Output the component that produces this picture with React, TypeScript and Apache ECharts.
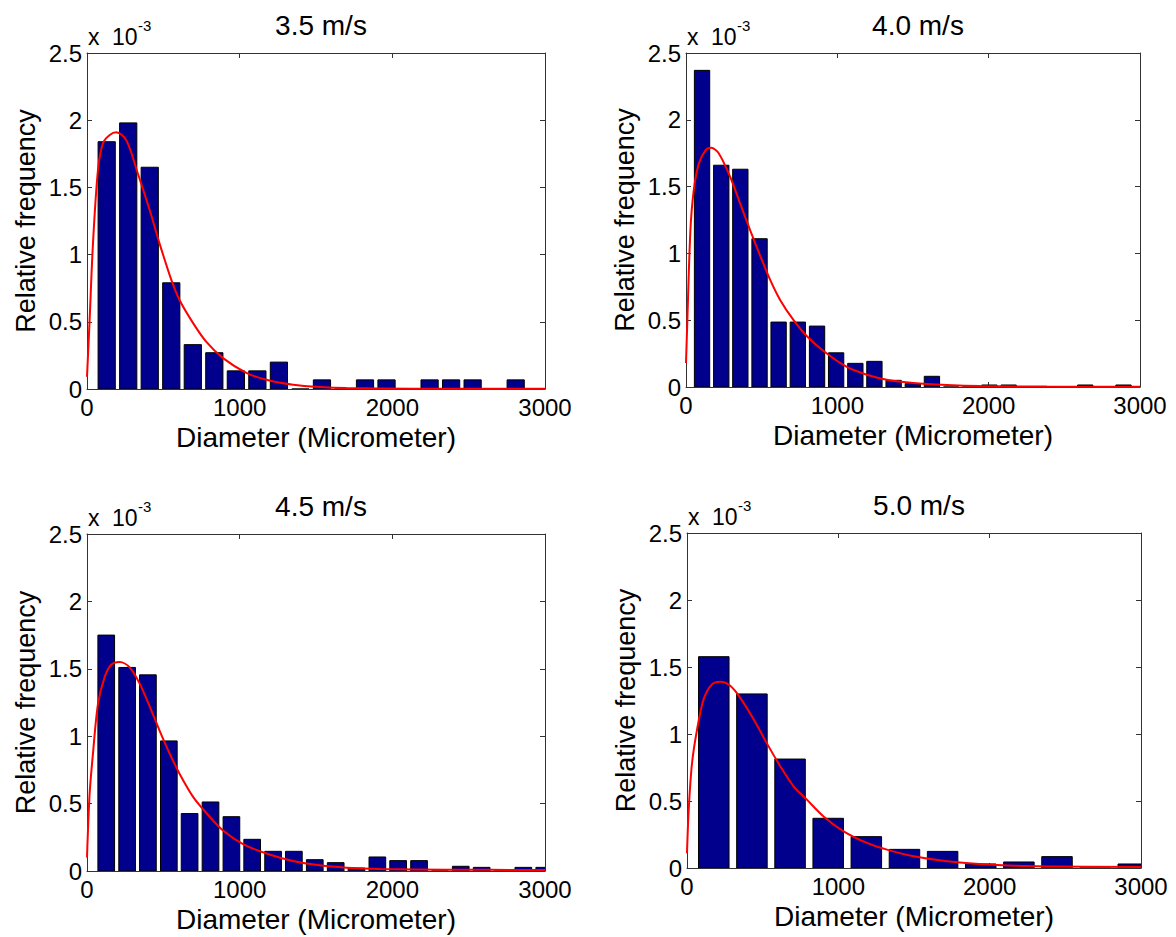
import React, { useEffect, useRef } from "react";
import * as echarts from "echarts";

// ---------- Data (relative frequency in units of 1e-3) ----------
const titles = ["3.5 m/s", "4.0 m/s", "4.5 m/s", "5.0 m/s"];
const xTicks = [0, 1000, 2000, 3000];
const yTicks = [0, 0.5, 1, 1.5, 2, 2.5];

// 3.5 m/s
const binWidth35 = 141;
const centers35 = [129, 270, 411, 552, 693, 834, 975, 1116, 1257, 1398, 1539, 1680, 1821, 1962, 2103, 2244, 2385, 2526, 2667, 2808];
const freq35 = [1.84, 1.98, 1.65, 0.79, 0.33, 0.27, 0.135, 0.135, 0.2, 0, 0.068, 0, 0.068, 0.068, 0, 0.068, 0.068, 0.068, 0, 0.068];
const curveX35 = [0, 17, 39, 72, 105, 149, 192, 258, 334, 411, 476, 553, 607, 695, 782, 891, 1044, 1175, 1350, 1525, 1700, 2137, 3000];
const curveY35 = [0.09, 0.51, 1.08, 1.63, 1.83, 1.89, 1.91, 1.85, 1.6, 1.33, 1.08, 0.81, 0.66, 0.49, 0.35, 0.23, 0.12, 0.069, 0.032, 0.015, 0.007, 0.002, 0.001];

// 4.0 m/s
const binWidth40 = 126.6;
const centers40 = [106, 233, 359, 486, 612, 739, 866, 992, 1119, 1245, 1372, 1499, 1625, 1752, 1878, 2005, 2132, 2258, 2385, 2511, 2638, 2765, 2891];
const freq40 = [2.37, 1.66, 1.63, 1.11, 0.486, 0.486, 0.456, 0.256, 0.177, 0.192, 0.05, 0.025, 0.08, 0, 0, 0.015, 0.015, 0, 0, 0, 0.015, 0, 0.015];
const curveX40 = [0, 7, 29, 51, 84, 128, 167, 216, 293, 359, 425, 491, 557, 623, 711, 799, 909, 1063, 1195, 1327, 1503, 1724, 1944, 2384, 3000];
const curveY40 = [0.18, 0.43, 1.17, 1.47, 1.67, 1.77, 1.79, 1.75, 1.57, 1.37, 1.17, 0.98, 0.8, 0.65, 0.5, 0.38, 0.27, 0.15, 0.092, 0.055, 0.03, 0.015, 0.007, 0.003, 0.002];

// 4.5 m/s
const binWidth45 = 136.6;
const centers45 = [126, 263, 399, 536, 672, 809, 946, 1082, 1219, 1355, 1492, 1629, 1765, 1902, 2038, 2175, 2312, 2448, 2585, 2721, 2858, 2995];
const freq45 = [1.75, 1.51, 1.455, 0.965, 0.426, 0.512, 0.403, 0.235, 0.146, 0.146, 0.084, 0.062, 0.022, 0.104, 0.077, 0.077, 0, 0.035, 0.027, 0, 0.027, 0.027];
const curveX45 = [0, 17, 39, 72, 116, 159, 214, 280, 345, 411, 476, 542, 607, 695, 782, 891, 1022, 1175, 1350, 1525, 1700, 1918, 2355, 3000];
const curveY45 = [0.1, 0.57, 0.87, 1.24, 1.44, 1.53, 1.55, 1.51, 1.39, 1.22, 1.04, 0.87, 0.72, 0.55, 0.43, 0.3, 0.2, 0.13, 0.074, 0.042, 0.025, 0.015, 0.01, 0.007];

// 5.0 m/s
const binWidth50 = 252;
const centers50 = [177, 429, 681, 933, 1185, 1437, 1689, 1941, 2193, 2445, 2697, 2949];
const freq50 = [1.577, 1.299, 0.813, 0.371, 0.234, 0.139, 0.124, 0.03, 0.045, 0.085, 0, 0.03];
const curveX50 = [0, 11, 33, 66, 110, 165, 220, 286, 352, 440, 528, 616, 704, 792, 902, 1035, 1189, 1321, 1497, 1717, 1937, 2157, 2377, 3000];
const curveY50 = [0.11, 0.43, 0.78, 1.03, 1.26, 1.37, 1.39, 1.36, 1.27, 1.11, 0.93, 0.76, 0.61, 0.51, 0.385, 0.274, 0.187, 0.137, 0.087, 0.05, 0.03, 0.017, 0.012, 0.007];

const panels = [
  { title: titles[0], w: binWidth35, c: centers35, f: freq35, cx: curveX35, cy: curveY35, grid: { left: 87, top: 53, width: 458, height: 336 } },
  { title: titles[1], w: binWidth40, c: centers40, f: freq40, cx: curveX40, cy: curveY40, grid: { left: 686, top: 53, width: 454, height: 334 } },
  { title: titles[2], w: binWidth45, c: centers45, f: freq45, cx: curveX45, cy: curveY45, grid: { left: 87, top: 534, width: 458, height: 337 } },
  { title: titles[3], w: binWidth50, c: centers50, f: freq50, cx: curveX50, cy: curveY50, grid: { left: 687, top: 533, width: 454, height: 335 } },
];

const FONT = "Liberation Sans, Arial, sans-serif";
const AX = "#333333";

function buildOption() {
  const grid: any[] = [];
  const xAxis: any[] = [];
  const yAxis: any[] = [];
  const series: any[] = [];
  const title: any[] = [];
  const graphic: any[] = [];

  panels.forEach((p, i) => {
    grid.push({ ...p.grid, containLabel: false });
    const commonX = {
      type: "value",
      gridIndex: i,
      min: xTicks[0],
      max: xTicks[xTicks.length - 1],
      interval: 1000,
      splitLine: { show: false },
      axisLine: { show: true, onZero: false, lineStyle: { color: AX, width: 1 } },
      axisTick: { show: true, inside: true, length: 5, lineStyle: { color: AX } },
    };
    xAxis.push({
      ...commonX,
      position: "bottom",
      axisLabel: {
        show: true,
        color: "#000",
        fontFamily: FONT,
        fontSize: 24,
        margin: 6,
        formatter: (v: number) => String(v),
      },
      name: "Diameter (Micrometer)",
      nameLocation: "middle",
      nameGap: 34,
      nameTextStyle: { color: "#000", fontFamily: FONT, fontSize: 28, verticalAlign: "top" },
    });
    xAxis.push({ ...commonX, position: "top", axisLabel: { show: false } });

    const commonY = {
      type: "value",
      gridIndex: i,
      min: yTicks[0],
      max: yTicks[yTicks.length - 1],
      interval: 0.5,
      splitLine: { show: false },
      axisLine: { show: true, onZero: false, lineStyle: { color: AX, width: 1 } },
      axisTick: { show: true, inside: true, length: 5, lineStyle: { color: AX } },
    };
    yAxis.push({
      ...commonY,
      position: "left",
      axisLabel: {
        show: true,
        color: "#000",
        fontFamily: FONT,
        fontSize: 24,
        margin: 5,
        formatter: (v: number) => String(v),
      },
      name: "Relative frequency",
      nameLocation: "middle",
      nameGap: 48,
      nameRotate: 90,
      nameTextStyle: { color: "#000", fontFamily: FONT, fontSize: 27 },
    });
    yAxis.push({ ...commonY, position: "right", axisLabel: { show: false } });

    const xi = i * 2;
    const yi = i * 2;
    series.push({
      type: "custom",
      xAxisIndex: xi,
      yAxisIndex: yi,
      clip: true,
      encode: { x: 0, y: 1 },
      data: p.c.map((c, k) => [c, p.f[k], p.w]),
      renderItem: (params: any, api: any) => {
        const cx = api.value(0);
        const v = api.value(1);
        const w = api.value(2);
        const a = api.coord([cx - w * 0.4, v]);
        const b = api.coord([cx + w * 0.4, 0]);
        return {
          type: "rect",
          shape: { x: a[0], y: a[1], width: b[0] - a[0], height: b[1] - a[1] },
          style: { fill: "#00008C", stroke: "#000000", lineWidth: 1 },
        };
      },
      z: 2,
    });
    series.push({
      type: "line",
      xAxisIndex: xi,
      yAxisIndex: yi,
      data: p.cx.map((x, k) => [x, p.cy[k]]),
      smooth: 0.3,
      showSymbol: false,
      symbol: "none",
      lineStyle: { color: "#FF0000", width: 2 },
      z: 3,
    });

    title.push({
      text: p.title,
      left: p.grid.left + p.grid.width / 2,
      top: p.grid.top - 47,
      textAlign: "center",
      textStyle: { color: "#000", fontFamily: FONT, fontSize: 28, fontWeight: "normal" },
    });

    graphic.push({
      type: "text",
      left: p.grid.left + 1,
      top: p.grid.top - 28,
      style: { text: "x", fill: "#000", font: `23px ${FONT}` },
    });
    graphic.push({
      type: "text",
      left: p.grid.left + 25,
      top: p.grid.top - 28,
      style: { text: "10", fill: "#000", font: `23px ${FONT}` },
    });
    graphic.push({
      type: "text",
      left: p.grid.left + 51,
      top: p.grid.top - 35,
      style: { text: "-3", fill: "#000", font: `15px ${FONT}` },
    });
  });

  return { animation: false, backgroundColor: "#ffffff", grid, xAxis, yAxis, series, title, graphic };
}

export default function App() {
  const ref = useRef<HTMLDivElement>(null);
  useEffect(() => {
    if (!ref.current) return;
    const chart = echarts.init(ref.current, undefined, { renderer: "svg" });
    chart.setOption(buildOption() as any);
    return () => chart.dispose();
  }, []);
  return (
    <div
      ref={ref}
      style={{ position: "fixed", left: 0, top: 0, width: 1176, height: 937, background: "#fff" }}
    />
  );
}
